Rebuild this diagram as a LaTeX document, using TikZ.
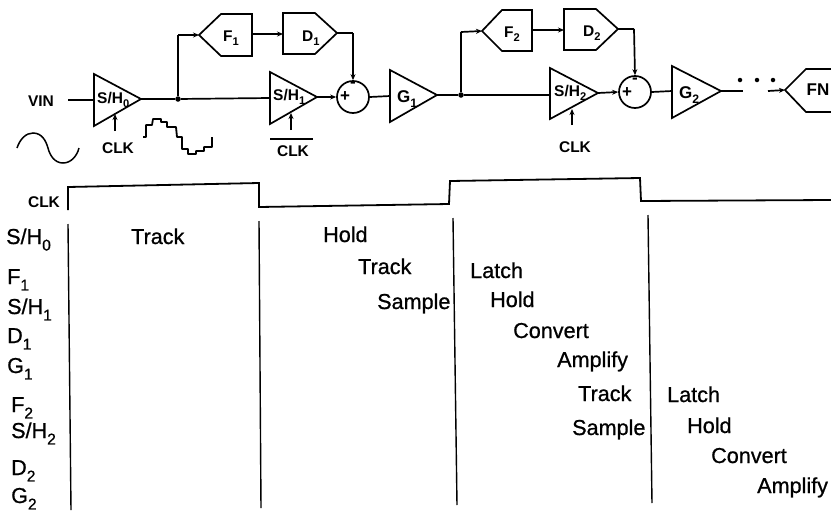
\documentclass[tikz,border=0pt]{standalone}
\usepackage{fontspec}
\usepackage{graphicx}
\setmainfont{Liberation Sans}
\newfontfamily\heavyfont[FakeBold=0.8]{Liberation Sans}
\usetikzlibrary{arrows.meta}
\newcommand\sbs[1]{\raisebox{-.3em}{\scalebox{.72}{#1}}}
\tikzset{
  wire/.style={line width=1.7pt,line join=miter},
  arr/.style={wire,-{Stealth[length=6pt,width=5pt]}},
  part/.style={line width=1.7pt,line join=miter,fill=white},
  bold15/.style={inner sep=0pt,font=\fontsize{15.5}{15.5}\bfseries\selectfont},
  bold17/.style={inner sep=0pt,font=\fontsize{17}{17}\bfseries\selectfont},
  sig/.style={inner sep=0pt,anchor=base west,font=\fontsize{21.6}{21.6}\heavyfont},
  dotp/.style={circle,fill=black,inner sep=0pt,minimum size=4.5pt},
  clockw/.style={line width=1.8pt,line join=miter},
  rule/.style={line width=1.4pt}
}
\begin{document}
\begin{tikzpicture}[x=1pt,y=-1pt]
\useasboundingbox (0,0) rectangle (831,512);
% ports
\coordinate (vinend) at (68,100);
\coordinate (sh0in) at (94,100);
\coordinate (sh0out) at (141,99);
\coordinate (sh1in) at (270,98);
\coordinate (sh1out) at (317,97);
\coordinate (j1top) at (178,35);
\coordinate (f1tip) at (199,35);
\coordinate (f1out) at (252,34);
\coordinate (d1in) at (283,34);
\coordinate (d1tip) at (337,33);
\coordinate (d1c) at (353,33);
\coordinate (g1in) at (390,96);
\coordinate (g1out) at (437,95);
\coordinate (j2top) at (461,32);
\coordinate (f2tip) at (482,31);
\coordinate (f2out) at (533,30);
\coordinate (d2in) at (564,30);
\coordinate (d2tip) at (618,29);
\coordinate (d2c) at (634,29);
\coordinate (sh2in) at (550,95);
\coordinate (sh2out) at (598,93);
\coordinate (g2in) at (672,91);
\coordinate (g2out) at (721,91);
\coordinate (gap1) at (743,91);
\coordinate (gap2) at (768,91);
\coordinate (fntip) at (785,90);
\coordinate (c0a) at (115,131);
\coordinate (c0b) at (115,114);
\coordinate (c1a) at (291,130);
\coordinate (c1b) at (291,113);
\coordinate (c2a) at (572,125);
\coordinate (c2b) at (572,109);
\node[circle,draw,line width=1.7pt,minimum size=32pt,inner sep=0pt] (sum1) at (353,97) {};
\node[circle,draw,line width=1.7pt,minimum size=32pt,inner sep=0pt] (sum2) at (635,92) {};
\node[dotp,minimum size=5.5pt] (j1) at (178,99) {};
\node[dotp,minimum size=5.5pt] (j2) at (461,95) {};
% connectors
\draw[wire] (vinend) -- (sh0in);
\draw[wire] (sh0out) -- (j1) -- (sh1in);
\draw[wire] (j1) -- (j1top);
\draw[arr] (j1top) -- (f1tip);
\draw[arr] (f1out) -- (d1in);
\draw[wire] (d1tip) -- (d1c);
\draw[arr] (d1c) -- (sum1.north);
\draw[arr] (sh1out) -- (sum1.west);
\draw[wire] (sum1.east) -- (g1in);
\draw[wire] (g1out) -- (j2) -- (sh2in);
\draw[wire] (j2) -- (j2top);
\draw[arr] (j2top) -- (f2tip);
\draw[arr] (f2out) -- (d2in);
\draw[wire] (d2tip) -- (d2c);
\draw[arr] (d2c) -- (sum2.north);
\draw[arr] (sh2out) -- (sum2.west);
\draw[wire] (sum2.east) -- (g2in);
\draw[wire] (g2out) -- (gap1);
\draw[arr] (gap2) -- (fntip);
\draw[arr] (c0a) -- (c0b);
\draw[arr] (c1a) -- (c1b);
\draw[arr] (c2a) -- (c2b);
% blocks
\draw[part] (94,74) -- (94,126) -- (141,99) -- cycle;
\draw[part] (270,72) -- (270,124) -- (317,97) -- cycle;
\draw[part] (390,70) -- (390,122) -- (437,95) -- cycle;
\draw[part] (550,68) -- (550,119) -- (598,93) -- cycle;
\draw[part] (672,66) -- (672,118) -- (721,91) -- cycle;
\draw[part] (199,35) -- (221,14) -- (252,14) -- (252,56) -- (221,56) -- cycle;
\draw[part] (283,13) -- (315,13) -- (337,33) -- (315,54) -- (283,54) -- cycle;
\draw[part] (482,31) -- (502,10) -- (532,10) -- (532,51) -- (502,51) -- cycle;
\draw[part] (564,9) -- (596,9) -- (618,29) -- (596,50) -- (564,50) -- cycle;
\draw[part] (834,69) -- (806,69) -- (785,90) -- (806,112) -- (834,112);
% dots
\node[dotp] (dot1) at (740,80) {};
\node[dotp] (dot2) at (757,80) {};
\node[dotp] (dot3) at (773,80) {};
% labels top
\node[bold15] (vin) at (41,101) {VIN};
\node[bold15,anchor=base west] (lsh0) at (97,103) {S/H\sbs{0}};
\node[bold15,anchor=base west] (lsh1) at (273,100) {S/H\sbs{1}};
\node[bold15,anchor=base west] (lsh2) at (554,96) {S/H\sbs{2}};
\node[bold15,anchor=base west] (lf1) at (223,41) {F\sbs{1}};
\node[bold15,anchor=base west] (ld1) at (302,41) {D\sbs{1}};
\node[bold15,anchor=base west] (lf2) at (504,37) {F\sbs{2}};
\node[bold15,anchor=base west] (ld2) at (583,36) {D\sbs{2}};
\node[bold17,anchor=base west] (lg1) at (397,102) {G\sbs{1}};
\node[bold17,anchor=base west] (lg2) at (679,98) {G\sbs{2}};
\node[bold17] (lfn) at (818,90) {FN};
\node[bold15] (lclk0) at (118,148) {CLK};
\node[bold15] (lclk1) at (293,151) {CLK};
\draw[wire] (270,139) -- (313,139);
\node[bold15] (lclk2) at (575,147) {CLK};
\node[bold15] (lclkw) at (44,202) {CLK};
\node[bold17] (plus1) at (345,97) {+};
\node[bold17] (minus1) at (353,85) {-};
\node[bold17] (plus2) at (627,93) {+};
\node[bold17] (minus2) at (635,81) {-};
% input and held waveforms
\draw[line width=1.5pt] (17,148) .. controls (20,139) and (26,133) .. (33,133)
  .. controls (42,133) and (46,141) .. (48,148)
  .. controls (50,156) and (55,163) .. (63,163)
  .. controls (71,163) and (77,156) .. (79,148);
\draw[line width=1.8pt,line join=round] (143,137) -- (146,137) -- (146,125) -- (152,125) -- (153,119) -- (161,119) -- (161,122) -- (167,122) -- (167,127) -- (176,127) -- (177,137) -- (182,137) -- (182,149) -- (188,149) -- (188,154) -- (196,154) -- (196,151) -- (204,151) -- (204,147) -- (212,147) -- (212,137);
% clock waveform
\draw[clockw] (68,210) -- (68,187) -- (259,183) -- (259,207) -- (449,204) -- (450,181) -- (640,178) -- (641,201) -- (831,200);
% phase rules
\draw[rule] (68,224) -- (71,510);
\draw[rule] (259,221) -- (261,508);
\draw[rule] (453,218) -- (457,505);
\draw[rule] (648,215) -- (652,503);
% signal names
\node[sig] (n1) at (6,244) {S/H\sbs{0}};
\node[sig] (n2) at (7,284) {F\sbs{1}};
\node[sig] (n3) at (7,314) {S/H\sbs{1}};
\node[sig] (n4) at (7,343) {D\sbs{1}};
\node[sig] (n5) at (7,373) {G\sbs{1}};
\node[sig] (n6) at (11,412) {F\sbs{2}};
\node[sig] (n7) at (11,438) {S/H\sbs{2}};
\node[sig] (n8) at (11,475) {D\sbs{2}};
\node[sig] (n9) at (11,503) {G\sbs{2}};
% phases
\node[sig] (p1) at (131,244) {Track};
\node[sig] (p2) at (323,242) {Hold};
\node[sig] (p3) at (358,274) {Track};
\node[sig] (p4) at (377,309) {Sample};
\node[sig] (p5) at (470,278) {Latch};
\node[sig] (p6) at (490,307) {Hold};
\node[sig] (p7) at (513,338) {Convert};
\node[sig] (p8) at (557,367) {Amplify};
\node[sig] (p9) at (578,401) {Track};
\node[sig] (p10) at (572,435) {Sample};
\node[sig] (p11) at (667,402) {Latch};
\node[sig] (p12) at (687,433) {Hold};
\node[sig] (p13) at (711,463) {Convert};
\node[sig] (p14) at (757,493) {Amplify};
\end{tikzpicture}
\end{document}
